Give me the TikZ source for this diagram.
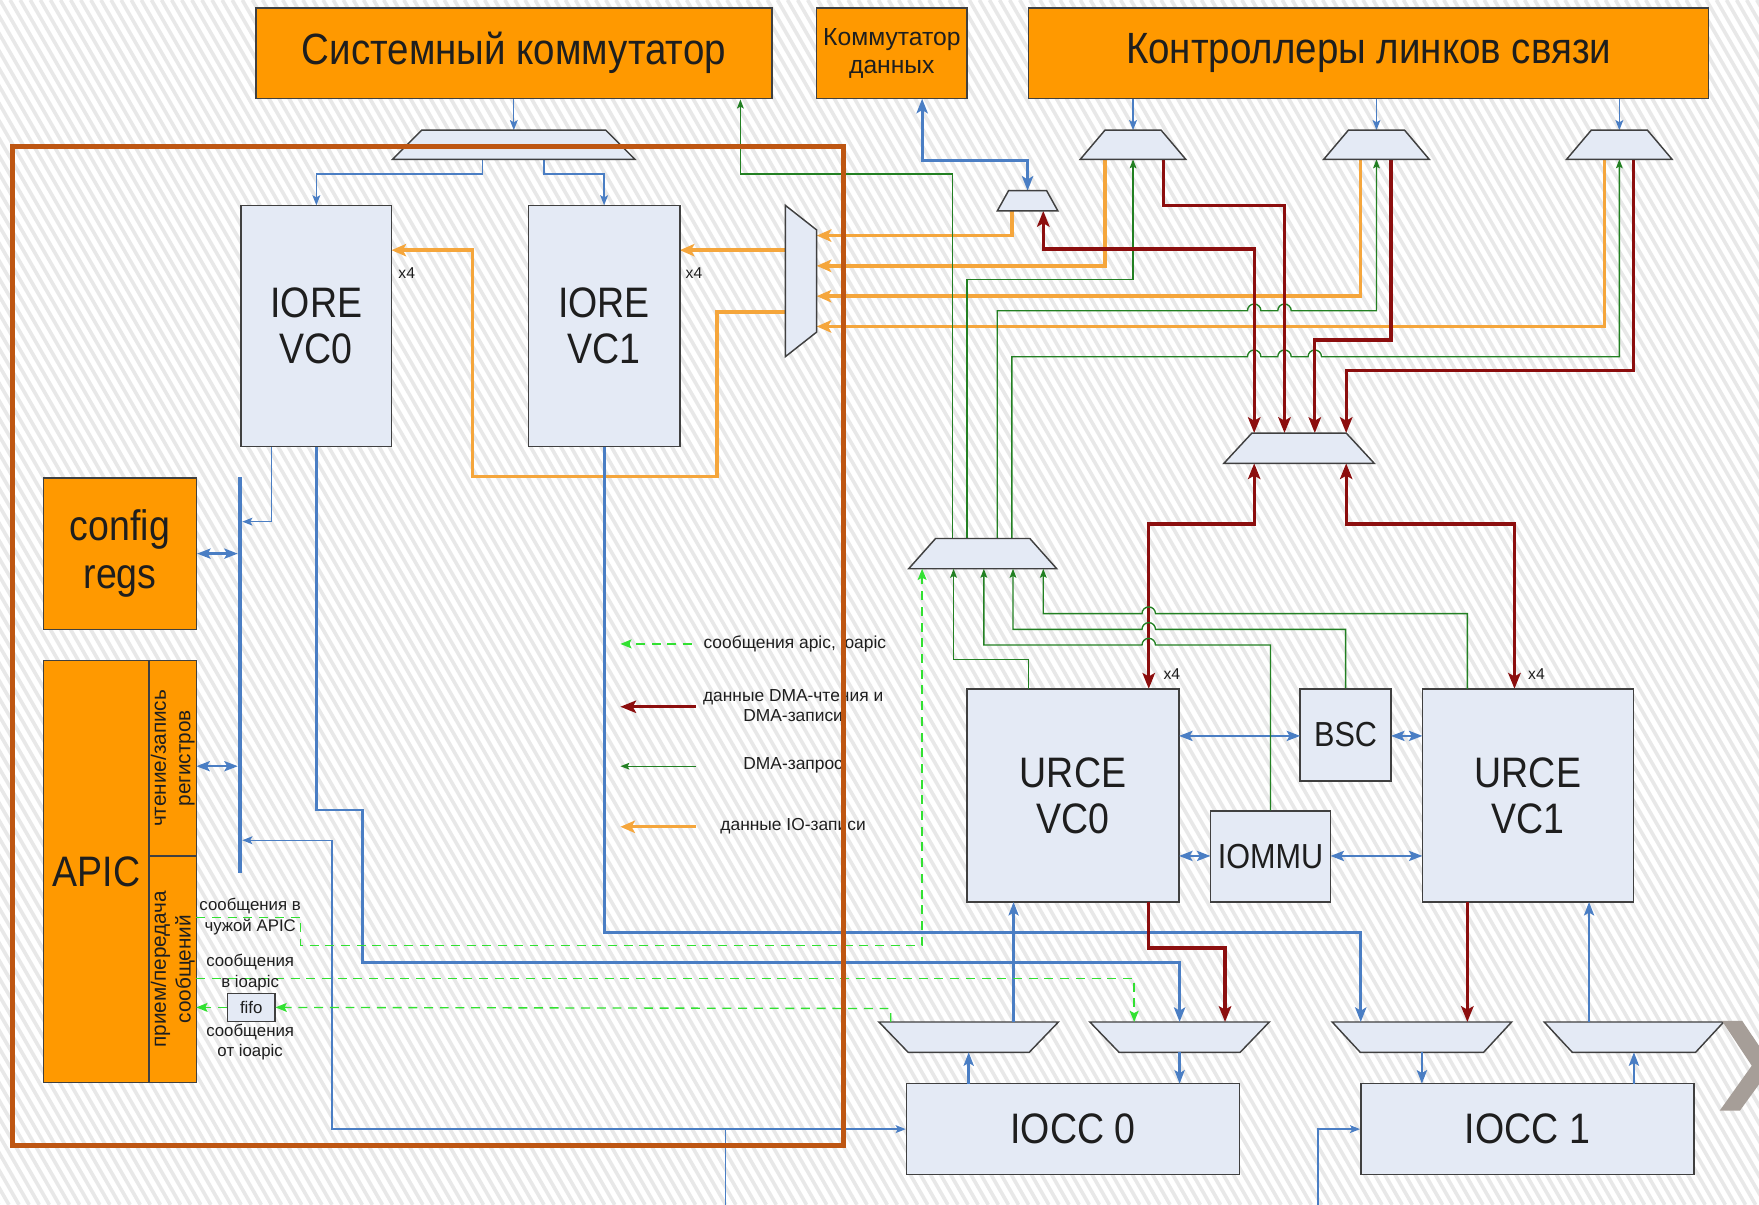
\documentclass[tikz,border=0pt]{standalone}
\usepackage{fontspec}
\setmainfont{Liberation Sans}
\newfontfamily\nar{Liberation Sans}[FakeStretch=0.88]
\usetikzlibrary{arrows.meta,calc}
\definecolor{blu}{RGB}{74,126,196}
\definecolor{orn}{RGB}{245,166,60}
\definecolor{dred}{RGB}{140,14,14}
\definecolor{dgrn}{RGB}{34,128,34}
\definecolor{lgrn}{RGB}{50,225,50}
\definecolor{bfill}{RGB}{228,234,245}
\definecolor{obox}{RGB}{255,153,0}
\definecolor{frm}{RGB}{190,86,18}
\definecolor{chev}{RGB}{166,158,152}
\definecolor{stripe}{RGB}{232,232,232}
\definecolor{txt}{RGB}{30,30,30}
\tikzset{
  blk/.style={draw=black!75, fill=bfill, line width=1.3pt, inner sep=0pt, align=center, text=txt, font=\nar\fontsize{38}{41}\selectfont},
  obx/.style={draw=black!75, fill=obox, line width=1.3pt, inner sep=0pt, align=center, text=txt},
  muxs/.style={draw=black!75, fill=bfill, line width=1.3pt},
  bt/.style={draw=blu, line width=1.2pt, >={Stealth[length=9pt,width=7pt,inset=2pt]}},
  bm/.style={draw=blu, line width=2.2pt, >={Stealth[length=12pt,width=9pt,inset=2.5pt]}},
  bk/.style={draw=blu, line width=2.6pt, >={Stealth[length=13pt,width=10pt,inset=3pt]}},
  org/.style={draw=orn, line width=3pt, >={Stealth[length=13pt,width=11pt,inset=3pt]}},
  rd/.style={draw=dred, line width=3pt, >={Stealth[length=14pt,width=11pt,inset=3pt]}},
  grn/.style={draw=dgrn, line width=1.2pt, >={Stealth[length=8pt,width=6pt,inset=1.5pt]}},
  lg/.style={draw=lgrn, line width=1.2pt, dash pattern=on 8pt off 6pt, >={Stealth[length=10pt,width=8pt,inset=2pt]}},
  lbl/.style={inner sep=0pt, text=txt, align=center},
}
\newcommand\muxdn[6]{% name, cx, ytop, ybot, half top, half bottom
  \draw[muxs] (#2-#5,#3) -- (#2+#5,#3) -- (#2+#6,#4) -- (#2-#6,#4) -- cycle;
  \coordinate (#1) at (#2,{(#3+#4)/2});}
\begin{document}
\begin{tikzpicture}[x=1pt,y=-1pt]
\useasboundingbox (0,0) rectangle (1568,1074);
\clip (0,0) rectangle (1568,1074);
\fill[white] (0,0) rectangle (1568,1074);
\foreach \i in {-70,...,175} \draw[stripe, line width=3.2pt] (\i*9,0) -- ++(620,1074);

% ---------------- boxes
\node[obx, minimum width=460pt, minimum height=81pt, font=\nar\fontsize{39}{44}\selectfont] (sys) at (458,47.5) {Системный коммутатор};
\node[obx, minimum width=134pt, minimum height=81pt, font=\fontsize{22}{25.5}\selectfont] (kd) at (795,47.5) {Коммутатор\\данных};
\node[obx, minimum width=606pt, minimum height=81pt, font=\nar\fontsize{39}{44}\selectfont] (klc) at (1220,47.5) {Контроллеры линков связи};

% ---------------- orange lines
\draw[org,->] (700,223) -- (606,223);
\draw[org,->] (700,278) -- (639,278) -- (639,425) -- (421,425) -- (421,223) -- (349,223);
\draw[org,->] (902,188) -- (902,210) -- (728,210);
\draw[org,->] (985,142) -- (985,237) -- (728,237);
\draw[org,->] (1213,142) -- (1213,264) -- (728,264);
\draw[org,->] (1430,142) -- (1430,291) -- (728,291);

% ---------------- green lines (DMA requests)
\draw[grn,->] (849,480) -- (849,155) -- (660,155) -- (sys.south -| 660,0);
\draw[grn,->] (862,480) -- (862,249) -- (1010,249) -- (1010,142);
\draw[grn,->] (889,480) -- (889,277) -- (1112,277) arc[start angle=180,end angle=360,radius=6] -- (1139,277) arc[start angle=180,end angle=360,radius=6] -- (1227,277) -- (1227,142);
\draw[grn,->] (902,480) -- (902,318) -- (1112,318) arc[start angle=180,end angle=360,radius=6] -- (1139,318) arc[start angle=180,end angle=360,radius=6] -- (1166,318) arc[start angle=180,end angle=360,radius=6] -- (1443.5,318) -- (1443.5,142);

% ---------------- blue lines
\draw[bt,->] (sys.south) -- (458,116);
\draw[bt,->] (430,142) -- (430,155) -- (282,155) -- (282,183);
\draw[bt,->] (485,142) -- (485,155) -- (538.5,155) -- (538.5,183);
\draw[bt,->] (1010,88) -- (1010,116);
\draw[bt,->] (1227,88) -- (1227,116);
\draw[bt,->] (1443.5,88) -- (1443.5,116);
\draw[bk,<->] (822,88) -- (822,143) -- (916,143) -- (916,170);

% ---------------- red lines
\draw[rd,->] (1037,142) -- (1037,183) -- (1145,183) -- (1145,386);
\draw[rd,->] (1240,142) -- (1240,303) -- (1172,303) -- (1172,386);
\draw[rd,->] (1456,142) -- (1456,330) -- (1200,330) -- (1200,386);
\draw[rd,<->] (930,188) -- (930,222) -- (1118,222) -- (1118,386);
\draw[rd,<->] (1118,413) -- (1118,467) -- (1024,467) -- (1024,614);
\draw[rd,<->] (1200,413) -- (1200,467) -- (1350,467) -- (1350,614);

% ---------------- muxes
\muxdn{sysmux}{458}{116}{142}{82}{108}
\muxdn{kdmux}{916}{170}{188}{17}{27}
\muxdn{lmA}{1010}{116}{142}{25}{47}
\muxdn{lmB}{1227}{116}{142}{25}{47}
\muxdn{lmC}{1443.5}{116}{142}{25}{47}
\muxdn{muxR}{1158}{386}{413}{42}{67}
\muxdn{muxG}{876}{480}{507}{42}{66}
\muxdn{bmA}{863.5}{911}{938}{80}{54}
\muxdn{bmB}{1051.5}{911}{938}{80}{54}
\muxdn{bmC}{1267.5}{911}{938}{80}{55}
\muxdn{bmD}{1456.5}{911}{938}{80}{55}
\draw[muxs] (700,183) -- (728,205) -- (728,296) -- (700,318) -- cycle;
\coordinate (vmux) at (714,250);

% ---------------- main blocks
\node[blk, minimum width=134pt, minimum height=215pt] (ioreA) at (282,290.5) {IORE\\VC0};
\node[blk, minimum width=135pt, minimum height=215pt] (ioreB) at (538.5,290.5) {IORE\\VC1};
\node[obx, minimum width=136pt, minimum height=135pt, font=\nar\fontsize{38}{43}\selectfont] (cfg) at (107,493.5) {config\\regs};
\node[obx, minimum width=94pt, minimum height=376pt, font=\nar\fontsize{38}{41}\selectfont] (apic) at (86,777) {APIC};
\node[obx, minimum width=42pt, minimum height=174pt] (rw) at (154,676) {};
\node[lbl, rotate=90, font=\fontsize{18.5}{22}\selectfont] (rwt) at (rw.center) {чтение/запись\\регистров};
\node[obx, minimum width=42pt, minimum height=202pt] (msg) at (154,864) {};
\node[lbl, rotate=90, font=\fontsize{18.5}{22}\selectfont] (msgt) at (msg.center) {прием/передача\\сообщений};
\node[blk, minimum width=42pt, minimum height=25pt, font=\fontsize{15}{17}\selectfont] (fifo) at (224,898) {fifo};
\node[blk, minimum width=189pt, minimum height=190pt] (ureA) at (956.5,709) {URCE\\VC0};
\node[blk, minimum width=188pt, minimum height=190pt] (ureB) at (1362,709) {URCE\\VC1};
\node[blk, minimum width=81pt, minimum height=82pt, font=\nar\fontsize{31}{34}\selectfont] (bsc) at (1199.5,655) {BSC};
\node[blk, minimum width=107pt, minimum height=81pt, font=\nar\fontsize{31}{34}\selectfont] (iommu) at (1132.5,763.5) {IOMMU};
\node[blk, minimum width=297pt, minimum height=81pt] (ioccA) at (956.5,1006.5) {IOCC 0};
\node[blk, minimum width=297pt, minimum height=81pt] (ioccB) at (1361.5,1006.5) {IOCC 1};

% ---------------- bus and left side connections
\coordinate (busT) at (214,425);
\coordinate (busB) at (214,778);
\draw[blu, line width=3.5pt] (busT) -- (busB);
\draw[bt,->] ([xshift=-40pt]ioreA.south) -- (242,465) -- (216,465);
\draw[bm,<->] (cfg.east) -- (212,493.5);
\draw[bm,<->] (175,683) -- (212,683);
\coordinate (jA) at (647,1006.5);
\coordinate (jAb) at (647,1074);
\draw[bt] (jAb) -- (jA);
\draw[bt,->] (jA) -- (ioccA.west);
\draw[bt,->] (jA) -- (296,1006.5) -- (296,749) -- (216,749);
\coordinate (jBb) at (1175,1074);
\draw[bt,->] (jBb) -- (1175,1006.5) -- (ioccB.west);

% ---------------- IORE to bottom muxes
\draw[bk,->] (ioreA.south) -- (282,722) -- (323,722) -- (323,858) -- (1051.5,858) -- (1051.5,911);
\draw[bk,->] (ioreB.south) -- (538.5,831) -- (1213,831) -- (1213,911);

% ---------------- URCE area
\draw[bm,<->] (1051,656) -- (1159,656);
\draw[bm,<->] (1240,656) -- (1268,656);
\draw[bm,<->] (1051,763) -- (1079,763);
\draw[bm,<->] (1186,763) -- (1268,763);
\draw[grn,->] (917,614) -- (917,588) -- (850,588) -- (850,507);
\draw[grn,->] (iommu.north) -- (1132.5,575) -- (1030,575) arc[start angle=0,end angle=-180,radius=6] -- (877,575) -- (877,507);
\draw[grn,->] (bsc.north) -- (1199.5,561) -- (1030,561) arc[start angle=0,end angle=-180,radius=6] -- (903,561) -- (903,507);
\draw[grn,->] (1308,614) -- (1308,547) -- (1030,547) arc[start angle=0,end angle=-180,radius=6] -- (930,547) -- (930,507);
\draw[rd,->] (1024,804) -- (1024,845) -- (1092,845) -- (1092,911);
\draw[rd,->] (1308,804) -- (1308,911);
\draw[bm,->] (903.5,911) -- (903.5,804);
\draw[bm,->] (863.5,966) -- (863.5,938);
\draw[bm,->] (1051.5,938) -- (1051.5,966);
\draw[bm,->] (1267.5,938) -- (1267.5,966);
\draw[bm,->] (1456.5,966) -- (1456.5,938);
\draw[bm,->] (1416.5,911) -- (1416.5,804);

% ---------------- apic message paths (dashed)
\draw[lg,->] (175,818) -- (268,818) -- (268,843) -- (822,843) -- (822,507);
\draw[lg,->] (175,872) -- (1011,872) -- (1011,911);
\draw[lg,->] (794,911) -- (794,899) -- (fifo.east);
\draw[lg,->] (fifo.west) -- (175,898);
\node[lbl, font=\fontsize{15}{18}\selectfont] (mA) at (223,817) {сообщения в\\чужой APIC};
\node[lbl, font=\fontsize{15}{18}\selectfont] (mB) at (223,867) {сообщения\\в ioapic};
\node[lbl, font=\fontsize{15}{18}\selectfont] (mC) at (223,929) {сообщения\\от ioapic};

% ---------------- x4 labels
\node[lbl, anchor=west, font=\fontsize{14}{16}\selectfont] (x4a) at (355,243) {x4};
\node[lbl, anchor=west, font=\fontsize{14}{16}\selectfont] (x4b) at (611,243) {x4};
\node[lbl, anchor=west, font=\fontsize{14}{16}\selectfont] (x4c) at (1037,601) {x4};
\node[lbl, anchor=west, font=\fontsize{14}{16}\selectfont] (x4d) at (1362,601) {x4};

% ---------------- legend
\coordinate (lgA1) at (617,574); \coordinate (lgA2) at (553,574);
\coordinate (lgB1) at (620,630); \coordinate (lgB2) at (553,630);
\coordinate (lgC1) at (620,683); \coordinate (lgC2) at (553,683);
\coordinate (lgD1) at (620,737); \coordinate (lgD2) at (553,737);
\draw[lg,->] (lgA1) -- (lgA2);
\draw[rd,->] (lgB1) -- (lgB2);
\draw[grn,->] (lgC1) -- (lgC2);
\draw[org,->] (lgD1) -- (lgD2);
\node[lbl, anchor=west, font=\fontsize{15.5}{18}\selectfont] (tA) at (627,574) {сообщения apic, ioapic};
\node[lbl, font=\fontsize{15.5}{18}\selectfont] (tB) at (707,629) {данные DMA-чтения и\\DMA-записи};
\node[lbl, font=\fontsize{15.5}{18}\selectfont] (tC) at (707,682) {DMA-запрос};
\node[lbl, font=\fontsize{15.5}{18}\selectfont] (tD) at (707,736) {данные IO-записи};

% ---------------- frame and chevron
\draw[frm, line width=4.5pt] (11,131) rectangle (752,1021);
\fill[chev] (1535,910) -- (1553,910) -- (1580,950) -- (1551,990) -- (1533,990) -- (1561.5,950) -- cycle;
\end{tikzpicture}
\end{document}
